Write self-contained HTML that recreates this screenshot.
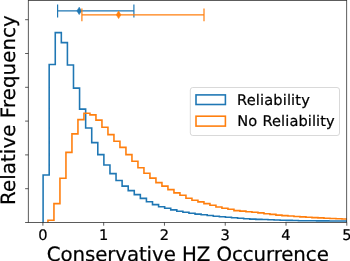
<!DOCTYPE html>
<html><head><meta charset="utf-8"><title>Histogram</title>
<style>html,body{margin:0;padding:0;background:#fff;width:350px;height:261px;overflow:hidden}</style>
</head><body>
<svg width="350" height="261" viewBox="0 0 350 261" style="position:absolute;left:0;top:0;text-rendering:geometricPrecision;font-family:'DejaVu Sans','Liberation Sans',sans-serif">
<rect width="350" height="261" fill="#fff"/>
<defs><clipPath id="ax"><rect x="28.3" y="0.4" width="318.4" height="222.1"/></clipPath></defs>
<g clip-path="url(#ax)" fill="none" stroke-width="1.58" stroke-linejoin="miter">
<path d="M43.10,222.50V175.00H49.18V64.50H55.26V32.60H61.33V42.60H67.41V65.00H73.49V88.10H79.57V109.10H85.65V128.00H91.72V142.60H97.80V154.60H103.88V165.00H109.96V173.60H116.04V180.50H122.11V186.10H128.19V190.60H134.27V194.60H140.35V198.40H146.43V201.70H152.50V204.60H158.58V206.70H164.66V208.30H170.74V209.90H176.82V211.20H182.89V212.30H188.97V213.30H195.05V214.10H201.13V214.80H207.21V215.52H213.28V216.17H219.36V216.76H225.44V217.30H231.52V217.82H237.60V218.30H243.67V218.72H249.75V219.10H255.83V219.35H261.91V219.58H267.99V219.80H274.06V220.00H280.14V220.20H286.22V220.38H292.30V220.55H298.38V220.70H304.45V220.76H310.53V220.81H316.61V220.86H322.69V220.91H328.77V220.96H334.84V221.01H340.92V221.06H347.00V221.10H353.08V221.10H359.16V222.50" stroke="#1f77b4"/>
<path d="M47.95,222.50V220.20H53.95V203.60H59.95V178.30H65.95V152.40H71.95V133.90H77.95V119.60H83.95V113.20H89.95V114.90H95.95V120.10H101.95V127.20H107.95V134.60H113.95V141.30H119.95V147.40H125.95V154.60H131.95V161.30H137.95V167.70H143.95V173.20H149.95V178.10H155.95V182.60H161.95V186.10H167.95V189.60H173.95V192.90H179.95V195.30H185.95V198.20H191.95V200.30H197.95V201.90H203.95V203.60H209.95V205.30H215.95V207.00H221.95V208.20H227.95V209.30H233.95V210.60H239.95V211.10H245.95V211.80H251.95V212.20H257.95V212.90H263.95V213.70H269.95V214.40H275.95V215.10H281.95V215.60H287.95V216.06H293.95V216.50H299.95V216.90H305.95V217.26H311.95V217.59H317.95V217.91H323.95V218.20H329.95V218.48H335.95V218.73H341.95V218.97H347.95V219.20H353.95V219.20H359.95V222.50" stroke="#ff7f0e"/>
<path d="M57.6,10.9H133.9M57.6,4.4V17.5M133.9,4.4V17.5" stroke="#1f77b4" stroke-width="1.2"/>
<path d="M79.2,7.2L81.5,10.9L79.2,14.6L76.9,10.9Z" fill="#1f77b4" stroke="#1f77b4" stroke-width="0.6"/>
<path d="M81.9,14.85H204M81.9,8.4V21.3M204,8.4V21.3" stroke="#ff7f0e" stroke-width="1.2"/>
<path d="M118.6,11.1L120.9,14.85L118.6,18.6L116.3,14.85Z" fill="#ff7f0e" stroke="#ff7f0e" stroke-width="0.6"/>
</g>
<rect x="28.3" y="0.4" width="318.4" height="222.1" fill="none" stroke="#000" stroke-opacity="0.8" stroke-width="0.8"/>
<path d="M28.3,222.50h-3.2M28.3,188.70h-3.2M28.3,154.90h-3.2M28.3,121.10h-3.2M28.3,87.30h-3.2M28.3,53.50h-3.2M28.3,19.70h-3.2M42.90,222.5v3.2M103.68,222.5v3.2M164.46,222.5v3.2M225.24,222.5v3.2M286.02,222.5v3.2M346.80,222.5v3.2" stroke="#000" stroke-opacity="0.8" stroke-width="0.8" fill="none"/>
<text x="42.90" y="239.6" font-size="14.6" text-anchor="middle" fill="#000" stroke="#000" stroke-width="0.22">0</text>
<text x="103.68" y="239.6" font-size="14.6" text-anchor="middle" fill="#000" stroke="#000" stroke-width="0.22">1</text>
<text x="164.46" y="239.6" font-size="14.6" text-anchor="middle" fill="#000" stroke="#000" stroke-width="0.22">2</text>
<text x="225.24" y="239.6" font-size="14.6" text-anchor="middle" fill="#000" stroke="#000" stroke-width="0.22">3</text>
<text x="286.02" y="239.6" font-size="14.6" text-anchor="middle" fill="#000" stroke="#000" stroke-width="0.22">4</text>
<text x="346.80" y="239.6" font-size="14.6" text-anchor="middle" fill="#000" stroke="#000" stroke-width="0.22">5</text>
<text x="46.7" y="261.0" font-size="19.8" textLength="282.1" fill="#000" stroke="#000" stroke-width="0.22">Conservative HZ Occurrence</text>
<text transform="translate(14.9,205.0) rotate(-90)" font-size="19.8" textLength="189.8" fill="#000" stroke="#000" stroke-width="0.22">Relative Frequency</text>
<rect x="190.3" y="87.5" width="149.2" height="48" rx="2.5" fill="#fff" fill-opacity="0.8" stroke="#ccc" stroke-opacity="0.75" stroke-width="1"/>
<rect x="196" y="94.9" width="29.4" height="9.6" fill="none" stroke="#1f77b4" stroke-width="1.58"/>
<rect x="196" y="116.2" width="29.4" height="9.9" fill="none" stroke="#ff7f0e" stroke-width="1.58"/>
<text x="237.1" y="104.7" font-size="14.6" textLength="72.7" fill="#000" stroke="#000" stroke-width="0.22">Reliability</text>
<text x="237.2" y="126.2" font-size="14.6" textLength="97.5" fill="#000" stroke="#000" stroke-width="0.22">No <tspan dx="0.45">Reliability</tspan></text>
</svg>
</body></html>
